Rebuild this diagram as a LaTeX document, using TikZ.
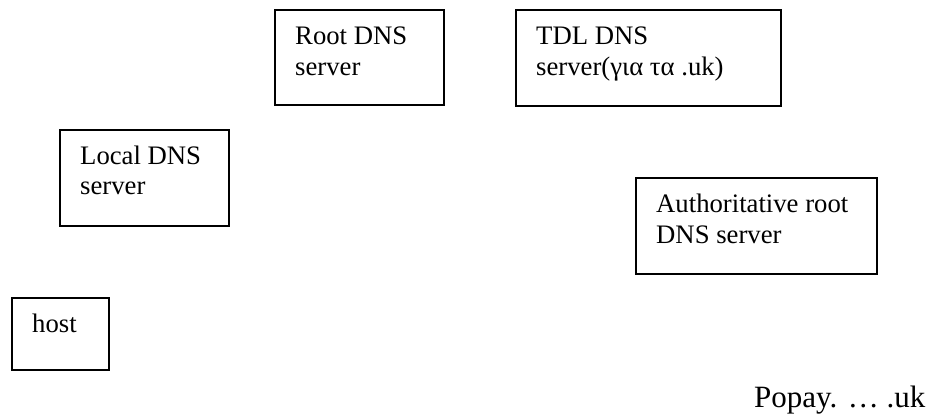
\documentclass[tikz,border=0pt]{standalone}
\usepackage{fontspec}
\setmainfont{Liberation Serif}
\begin{document}
\begin{tikzpicture}[x=1pt,y=-1pt,
  box/.style={draw=black,line width=1.8pt,anchor=north west,inner sep=0pt},
  lbl/.style={anchor=base west,inner sep=0pt,font=\fontsize{26.7}{30.5}\selectfont},
  big/.style={anchor=base west,inner sep=0pt,font=\fontsize{31}{36}\selectfont}]
\useasboundingbox (0,0) rectangle (929,416);
% boxes
\node[box,minimum width=169pt,minimum height=95pt] (root) at (274,9) {};
\node[box,minimum width=265pt,minimum height=96pt] (tdl) at (515,9) {};
\node[box,minimum width=169pt,minimum height=96pt] (local) at (59,129) {};
\node[box,minimum width=241pt,minimum height=96pt] (auth) at (635,177) {};
\node[box,minimum width=97pt,minimum height=72pt] (host) at (11,297) {};
% texts
\node[lbl] (rootA) at (295,44) {Root DNS};
\node[lbl] (rootB) at (295,75) {server};
\node[lbl] (tdlA) at (536,44) {TDL DNS};
\node[lbl] (tdlB) at (536,75) {server(για τα .uk)};
\node[lbl] (localA) at (80,164) {Local DNS};
\node[lbl] (localB) at (80,194) {server};
\node[lbl] (authA) at (656,212) {Authoritative root};
\node[lbl] (authB) at (656,243) {DNS server};
\node[lbl] (hostA) at (32,332) {host};
\node[big] (popay) at (754,407) {Popay. … .uk};
\end{tikzpicture}
\end{document}
